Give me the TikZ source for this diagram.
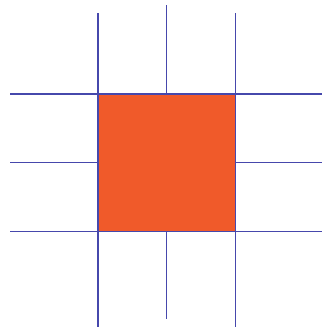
\documentclass[tikz,border=0pt]{standalone}
\definecolor{sq}{RGB}{240,90,42}
\definecolor{ln}{RGB}{70,72,172}
\begin{document}
\begin{tikzpicture}[x=1pt,y=-1pt,gridline/.style={draw=ln,line width=1.6pt}]
\useasboundingbox (0,0) rectangle (322,329);
\fill[sq] (98,94) rectangle (235.5,231.5);
% verticals
\draw[gridline] (98,13.5) -- (98,326.5);
\draw[gridline] (166.5,5.5) -- (166.5,94);
\draw[gridline] (166.5,231.5) -- (166.5,319);
\draw[gridline] (235.5,13.5) -- (235.5,326.5);
% horizontals
\draw[gridline] (10,94) -- (322,94);
\draw[gridline] (10,162.5) -- (98,162.5);
\draw[gridline] (235.5,162.5) -- (322,162.5);
\draw[gridline] (10,231.5) -- (322,231.5);
\end{tikzpicture}
\end{document}
